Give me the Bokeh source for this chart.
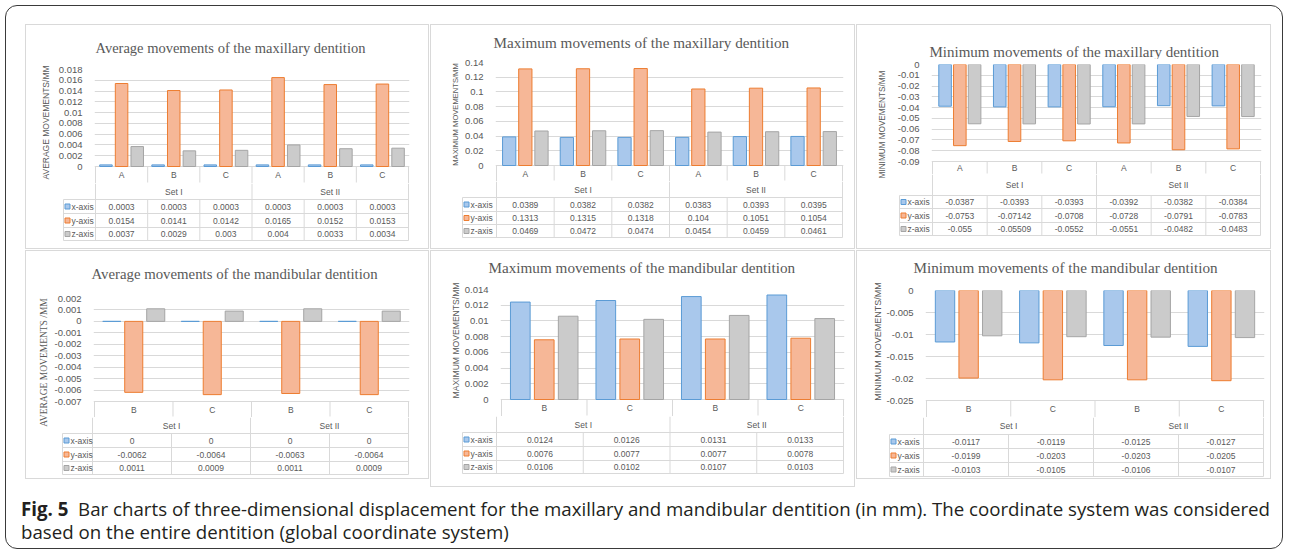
import math
from bokeh.plotting import figure
from bokeh.models import (Range1d, FactorRange, FixedTicker, CustomJSTickFormatter, ColumnDataSource,
                          Div, Spacer)
from bokeh.layouts import column, row
from bokeh.transform import dodge
from bokeh.core.properties import value
from bokeh.embed import file_html
from bokeh.resources import INLINE

# ---------------- data ----------------
series_names = ["x-axis", "y-axis", "z-axis"]

maxi_sets = ["Set I", "Set I", "Set I", "Set II", "Set II", "Set II"]
maxi_groups = ["A", "B", "C", "A", "B", "C"]
mand_sets = ["Set I", "Set I", "Set II", "Set II"]
mand_groups = ["B", "C", "B", "C"]

avg_maxi_x = [0.0003, 0.0003, 0.0003, 0.0003, 0.0003, 0.0003]
avg_maxi_y = [0.0154, 0.0141, 0.0142, 0.0165, 0.0152, 0.0153]
avg_maxi_z = [0.0037, 0.0029, 0.003, 0.004, 0.0033, 0.0034]

max_maxi_x = [0.0389, 0.0382, 0.0382, 0.0383, 0.0393, 0.0395]
max_maxi_y = [0.1313, 0.1315, 0.1318, 0.104, 0.1051, 0.1054]
max_maxi_z = [0.0469, 0.0472, 0.0474, 0.0454, 0.0459, 0.0461]

min_maxi_x = [-0.0387, -0.0393, -0.0393, -0.0392, -0.0382, -0.0384]
min_maxi_y = [-0.0753, -0.07142, -0.0708, -0.0728, -0.0791, -0.0783]
min_maxi_z = [-0.055, -0.05509, -0.0552, -0.0551, -0.0482, -0.0483]

avg_mand_x = [0, 0, 0, 0]
avg_mand_y = [-0.0062, -0.0064, -0.0063, -0.0064]
avg_mand_z = [0.0011, 0.0009, 0.0011, 0.0009]

max_mand_x = [0.0124, 0.0126, 0.0131, 0.0133]
max_mand_y = [0.0076, 0.0077, 0.0077, 0.0078]
max_mand_z = [0.0106, 0.0102, 0.0107, 0.0103]

min_mand_x = [-0.0117, -0.0119, -0.0125, -0.0127]
min_mand_y = [-0.0199, -0.0203, -0.0203, -0.0205]
min_mand_z = [-0.0103, -0.0105, -0.0106, -0.0107]

ticks_avg_maxi = [0, 0.002, 0.004, 0.006, 0.008, 0.01, 0.012, 0.014, 0.016, 0.018]
ticks_max_maxi = [0, 0.02, 0.04, 0.06, 0.08, 0.1, 0.12, 0.14]
ticks_min_maxi = [0, -0.01, -0.02, -0.03, -0.04, -0.05, -0.06, -0.07, -0.08, -0.09]
ticks_avg_mand = [0.002, 0.001, 0, -0.001, -0.002, -0.003, -0.004, -0.005, -0.006, -0.007]
ticks_max_mand = [0, 0.002, 0.004, 0.006, 0.008, 0.01, 0.012, 0.014]
ticks_min_mand = [0, -0.005, -0.01, -0.015, -0.02, -0.025]

titles = ["Average movements of the maxillary dentition",
          "Maximum movements of the maxillary dentition",
          "Minimum movements of the maxillary dentition",
          "Average movements of the mandibular dentition",
          "Maximum movements of the mandibular dentition",
          "Minimum movements of the mandibular dentition"]
ylabels = ["AVERAGE MOVEMENTS/MM", "MAXIMUM MOVEMENTS/MM", "MINIMUM MOVEMENTS/MM",
           "AVERAGE MOVEMENTS /MM", "MAXIMUM MOVEMENTS/MM", "MINIMUM MOVEMENTS/MM"]

# ---------------- style ----------------
FILLS = ["#a9c8ec", "#f6b797", "#cbcbcb"]
LINES = ["#5b9bd5", "#ed7d31", "#a5a5a5"]
GRID = "#d9d9d9"
TXT = "#595959"
SANS = "Liberation Sans"
SERIF = "Liberation Serif"


def fmt(v):
    return f"{v:g}"


def strip(w, h):
    f = figure(width=w, height=h, x_range=Range1d(0, w), y_range=Range1d(0, h),
               output_backend="svg", toolbar_location=None, frame_align=False,
               x_axis_location=None, y_axis_location=None, min_border=0)
    f.outline_line_color = None
    f.grid.visible = False
    return f


def build_panel(title, ylabel, sets, groups, xs, ys, zs, ticks, g):
    factors = list(zip(sets, groups))
    N = len(factors)
    L, W, top, H = g["L"], g["W"], g["top"], g["H"]
    fl, fr, ll, ft, fb = g["fl"], g["fr"], g["ll"], g["ft"], g["fb"]
    cat_h, set_h, xh, yh, zh = g["rows"]
    lw = g["lw"]
    mbt = g.get("mbt", 6)
    inner_w = W - 2 - lw
    x_in = L + 1 + lw            # page x of the title/chart/table figures' left edge
    unit = (fr - fl) / N
    ymin, ymax = min(ticks), max(ticks)
    scale = (ymax - ymin) / (fb - ft)          # value units per pixel

    # ---- vertical axis title, in its own narrow strip ----
    lab = strip(lw, H - 2)
    lab.text(x=[g["lcx"] - (L + 1)], y=[(H - 2) - (g["lcy"] - top - 1)], text=[ylabel],
             angle=math.pi / 2, text_align="center", text_baseline="middle",
             text_font=value(g["lfont"]), text_font_size=g["lsize"], text_color=TXT)

    # ---- chart title strip ----
    tfh = ft - top - 1 - mbt
    tt = strip(inner_w, tfh)
    tt.text(x=[g["tx"] - x_in], y=[tfh - (g["ty"] - top - 1)], text=[title],
            text_align="left", text_baseline="middle",
            text_font=value(SERIF), text_font_size=g["tsize"], text_color=TXT)

    # ---- bar chart (+ category row) ----
    ch = fb + cat_h - (ft - mbt)
    xr = FactorRange(*factors, factor_padding=0, group_padding=0,
                     range_padding=1 / unit, range_padding_units="absolute")
    p = figure(width=inner_w, height=ch, x_range=xr,
               y_range=Range1d(ymin - cat_h * scale, ymax),
               output_backend="svg", toolbar_location=None, frame_align=False,
               x_axis_location=None,
               min_border_left=fl - x_in - 1, min_border_right=L + W - 2 - fr,
               min_border_top=mbt, min_border_bottom=0)
    p.outline_line_color = None
    p.xgrid.visible = False
    p.ygrid.grid_line_color = GRID
    p.ygrid.ticker = FixedTicker(ticks=ticks)
    ax = p.yaxis[0]
    ax.ticker = FixedTicker(ticks=ticks)
    ax.formatter = CustomJSTickFormatter(code="return String(parseFloat(tick.toFixed(6)))")
    ax.axis_line_color = None
    ax.major_tick_line_color = None
    ax.minor_tick_line_color = None
    ax.major_label_text_font = SANS
    ax.major_label_text_font_size = "9.5px"
    ax.major_label_text_color = TXT
    ax.major_label_standoff = 6

    src = ColumnDataSource(dict(cat=factors, x=xs, y=ys, z=zs))
    for key, off, fc, lc in zip(["x", "y", "z"], [-g["off"], 0, g["off"]], FILLS, LINES):
        p.vbar(x=dodge("cat", off, range=xr), top=key, bottom=0, width=g["bw"],
               source=src, fill_color=fc, line_color=lc, line_width=1)

    ybot = ymin - cat_h * scale
    cx0, cx1, cy0, cy1 = [0, N], [0, N], [ymin, ymin], [ybot, ybot]
    for k in range(1, N):
        cx0.append(k); cx1.append(k); cy0.append(ymin)
        cy1.append(ybot if sets[k] != sets[k - 1] else ymin - (cat_h - 1) * scale)
    p.segment(x0=cx0, y0=cy0, x1=cx1, y1=cy1, line_color=GRID, line_width=1)
    p.text(x=factors, y=[ymin - cat_h / 2 * scale] * N, text=groups, text_align="center",
           text_baseline="middle", text_font=value(SANS), text_font_size="8.5px", text_color=TXT)

    # ---- data table below ----
    th = H - 2 - tfh - ch
    tab_h = set_h + xh + yh + zh
    Lw = (fl - ll) / unit
    t = figure(width=inner_w, height=th,
               x_range=Range1d(-Lw - 1 / unit, N + 1 / unit),
               y_range=Range1d(tab_h - th, tab_h),
               output_backend="svg", toolbar_location=None, frame_align=False,
               x_axis_location=None, y_axis_location=None,
               min_border_left=ll - 1 - x_in, min_border_right=L + W - 2 - fr,
               min_border_top=0, min_border_bottom=0)
    t.outline_line_color = None
    t.grid.visible = False
    b0 = 0
    b1 = zh
    b2 = b1 + yh
    b3 = b2 + xh
    b4 = b3 + set_h
    sx0, sy0, sx1, sy1 = [], [], [], []

    def seg(a, b, c, d):
        sx0.append(a); sy0.append(b); sx1.append(c); sy1.append(d)

    for yy in (b0, b1, b2, b3):
        seg(-Lw, yy, N, yy)
    seg(-Lw, b0, -Lw, b3)
    seg(0, b0, 0, b4)
    seg(N, b0, N, b4)
    for k in range(1, N):
        if sets[k] != sets[k - 1]:
            seg(k, b0, k, b4)
        else:
            seg(k, b0, k, b3)
    t.segment(x0=sx0, y0=sy0, x1=sx1, y1=sy1, line_color=GRID, line_width=1)

    tstyle = dict(text_font=value(SANS), text_font_size="8.5px", text_color=TXT,
                  text_baseline="middle")
    set_names, set_x = [], []
    for s in dict.fromkeys(sets):
        idx = [i for i, v in enumerate(sets) if v == s]
        set_names.append(s)
        set_x.append((idx[0] + idx[-1] + 1) / 2)
    t.text(x=set_x, y=[(b3 + b4) / 2] * len(set_x), text=set_names,
           text_align="center", **tstyle)
    row_y = [(b2 + b3) / 2, (b1 + b2) / 2, (b0 + b1) / 2]
    for vals, yc in zip([xs, ys, zs], row_y):
        t.text(x=[i + 0.5 for i in range(N)], y=[yc] * N, text=[fmt(v) for v in vals],
               text_align="center", **tstyle)
    t.scatter(x=[-Lw + 4 / unit] * 3, y=row_y, marker="square", size=5,
              fill_color=FILLS, line_color=LINES, line_width=1)
    t.text(x=[-Lw + 8 / unit] * 3, y=row_y, text=series_names, text_align="left", **tstyle)

    return row(lab, column(tt, p, t), styles={"border": "1px solid #d9d9d9"})


geo = [
    dict(L=25, W=404, top=24, H=225, fl=95, fr=408, ll=63, ft=69, fb=166, rows=[17, 16, 14, 14, 13],
         tsize="14.5px", tx=95, ty=47, lfont=SANS, lsize="8.5px", lcx=45, lcy=122, lw=25,
         off=0.30, bw=0.24),
    dict(L=430, W=425, top=24, H=225, fl=496, fr=842, ll=462, ft=62, fb=165, rows=[16, 16, 14, 13, 13],
         tsize="15.2px", tx=493, ty=42, lfont=SANS, lsize="7.6px", lcx=455, lcy=114, lw=30,
         off=0.28, bw=0.23),
    dict(L=856, W=415, top=24, H=225, fl=932, fr=1260, ll=899, ft=64, fb=161, rows=[13, 21, 13, 14, 13],
         tsize="15px", tx=929, ty=51, lfont=SANS, lsize="8.2px", lcx=882, lcy=124, lw=31,
         off=0.27, bw=0.23, mbt=5),
    dict(L=25, W=404, top=250, H=229, fl=92, fr=408, ll=62, ft=298, fb=401, rows=[16, 16, 14, 14, 13],
         tsize="14.8px", tx=91, ty=273, lfont=SERIF, lsize="9.5px", lcx=43, lcy=362, lw=25,
         off=0.28, bw=0.23),
    dict(L=430, W=425, top=250, H=237, fl=496, fr=843, ll=462, ft=289, fb=399, rows=[17, 16, 14, 14, 13],
         tsize="15.2px", tx=488, ty=267, lfont=SANS, lsize="8.6px", lcx=455, lcy=340, lw=30,
         off=0.28, bw=0.23),
    dict(L=856, W=415, top=250, H=229, fl=923, fr=1263, ll=889, ft=290, fb=400, rows=[17, 17, 14, 14, 14],
         tsize="15.2px", tx=913, ty=267, lfont=SANS, lsize="9px", lcx=877, lcy=341, lw=26,
         off=0.28, bw=0.23),
]

P1 = build_panel(titles[0], ylabels[0], maxi_sets, maxi_groups, avg_maxi_x, avg_maxi_y, avg_maxi_z, ticks_avg_maxi, geo[0])
P2 = build_panel(titles[1], ylabels[1], maxi_sets, maxi_groups, max_maxi_x, max_maxi_y, max_maxi_z, ticks_max_maxi, geo[1])
P3 = build_panel(titles[2], ylabels[2], maxi_sets, maxi_groups, min_maxi_x, min_maxi_y, min_maxi_z, ticks_min_maxi, geo[2])
P4 = build_panel(titles[3], ylabels[3], mand_sets, mand_groups, avg_mand_x, avg_mand_y, avg_mand_z, ticks_avg_mand, geo[3])
P5 = build_panel(titles[4], ylabels[4], mand_sets, mand_groups, max_mand_x, max_mand_y, max_mand_z, ticks_max_mand, geo[4])
P6 = build_panel(titles[5], ylabels[5], mand_sets, mand_groups, min_mand_x, min_mand_y, min_mand_z, ticks_min_mand, geo[5])

caption = Div(
    text='<span style="font-weight:bold">Fig. 5</span>&nbsp;&nbsp;Bar charts of three-dimensional displacement '
         'for the maxillary and mandibular dentition (in mm). The coordinate system was considered<br>'
         'based on the entire dentition (global coordinate system)',
    width=1262, height=48,
    styles={"font-family": "'Open Sans', sans-serif", "font-size": "18.7px",
            "line-height": "23px", "white-space": "nowrap", "color": "#231f20"})

r1 = row(Spacer(width=19), P1, Spacer(width=1), P2, Spacer(width=1), P3)
r2 = row(Spacer(width=19), P4, Spacer(width=1), P5, Spacer(width=1), P6)
root = column(Spacer(height=18), r1, Spacer(height=1), r2, Spacer(height=5),
              row(Spacer(width=10), caption),
              styles={"border": "1px solid #3a3a3a", "border-radius": "12px", "margin": "5px",
                      "width": "1278px", "height": "544px"})

open("out.html", "w").write(file_html(root, INLINE))
